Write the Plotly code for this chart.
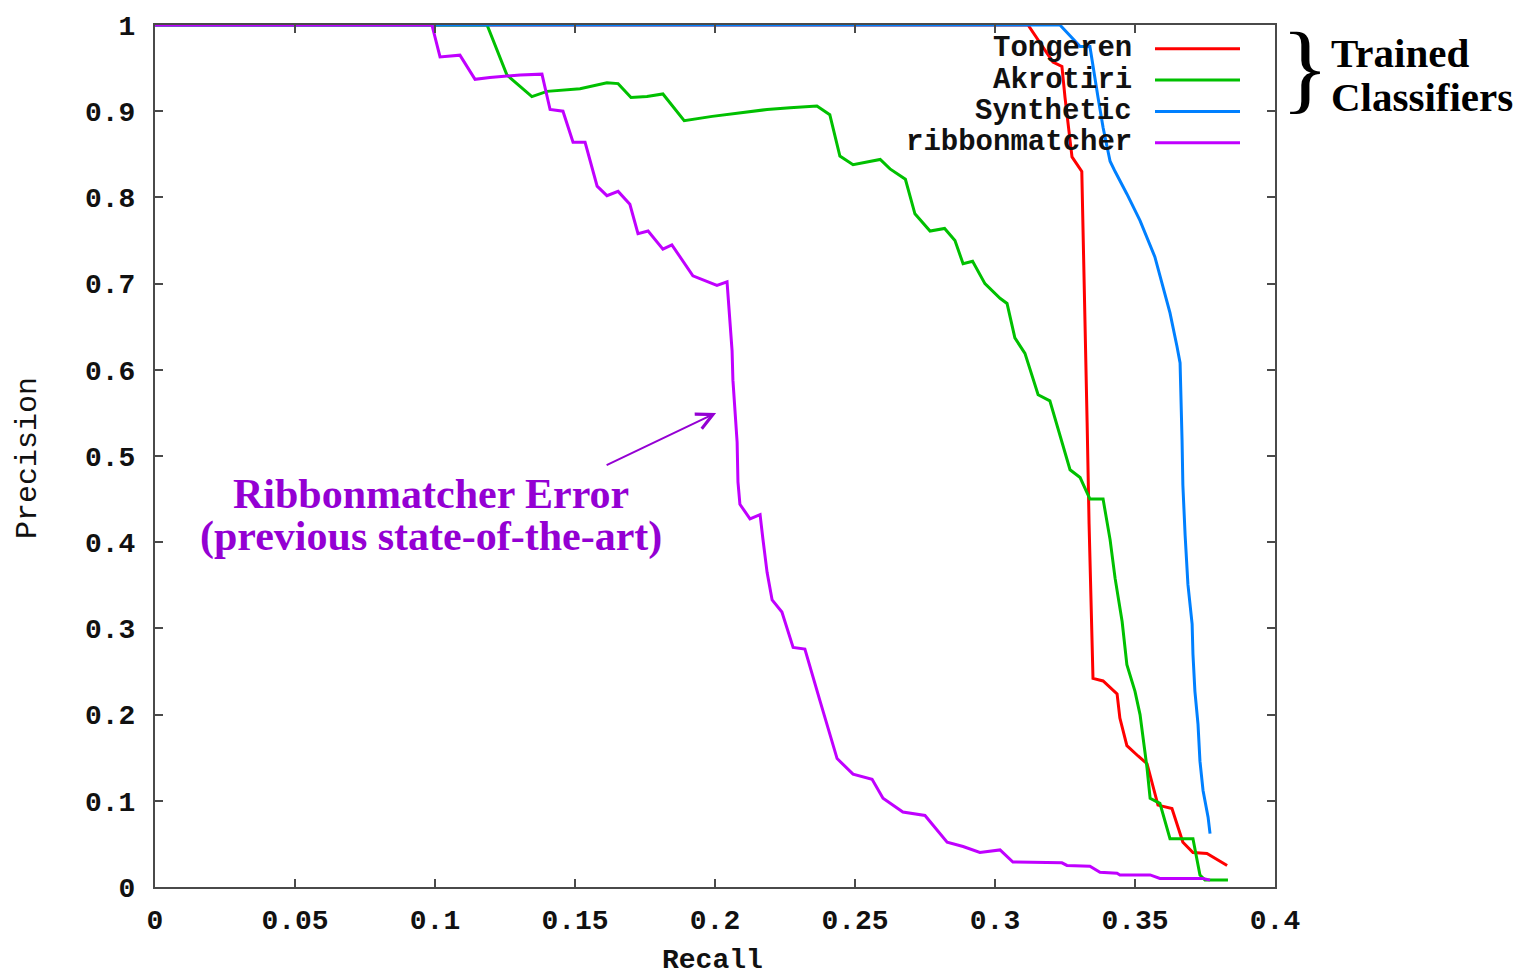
import plotly.graph_objects as go

# Precision / recall curves for the three trained classifiers and ribbonmatcher
tongeren_recall = [0.0, 0.3118, 0.3207, 0.3239, 0.3250, 0.3275, 0.3310, 0.3314, 0.3320,
                   0.3329, 0.3336, 0.3346, 0.3350, 0.3386, 0.3436, 0.3446, 0.3471, 0.3511,
                   0.3543, 0.3582, 0.3632, 0.3671, 0.3707, 0.3757, 0.3829]
tongeren_precision = [1.0, 1.0, 0.957, 0.952, 0.916, 0.847, 0.830, 0.773, 0.654,
                      0.539, 0.421, 0.302, 0.242, 0.239, 0.224, 0.196, 0.164, 0.152,
                      0.143, 0.095, 0.091, 0.052, 0.040, 0.039, 0.025]

akrotiri_recall = [0.0, 0.1186, 0.1257, 0.1346, 0.1400, 0.1518, 0.1614, 0.1654, 0.1700,
                   0.1757, 0.1814, 0.1890, 0.1990, 0.2060, 0.2186, 0.2268, 0.2364, 0.2410,
                   0.2446, 0.2493, 0.2590, 0.2625, 0.2680, 0.2714, 0.2768, 0.2820, 0.2857,
                   0.2886, 0.2920, 0.2964, 0.3018, 0.3043, 0.3071, 0.3107, 0.3154, 0.3196,
                   0.3268, 0.3304, 0.3339, 0.3386, 0.3411, 0.3429, 0.3454, 0.3471, 0.3500,
                   0.3518, 0.3543, 0.3554, 0.3589, 0.3625, 0.3707, 0.3732, 0.3750, 0.3832]
akrotiri_precision = [1.0, 1.0, 0.942, 0.917, 0.923, 0.926, 0.933, 0.932, 0.916,
                      0.917, 0.920, 0.889, 0.894, 0.897, 0.902, 0.904, 0.906, 0.896,
                      0.848, 0.838, 0.844, 0.833, 0.821, 0.781, 0.761, 0.764, 0.750,
                      0.723, 0.726, 0.700, 0.683, 0.677, 0.637, 0.619, 0.571, 0.564,
                      0.484, 0.475, 0.450, 0.450, 0.403, 0.358, 0.308, 0.258, 0.227,
                      0.200, 0.138, 0.103, 0.097, 0.056, 0.056, 0.014, 0.008, 0.008]

synthetic_recall = [0.0, 0.3232, 0.3304, 0.3339, 0.3368, 0.3386, 0.3411, 0.3429, 0.3471,
                    0.3518, 0.3571, 0.3600, 0.3625, 0.3650, 0.3661, 0.3668, 0.3671, 0.3679,
                    0.3689, 0.3704, 0.3707, 0.3714, 0.3725, 0.3732, 0.3743, 0.3761, 0.3768]
synthetic_precision = [1.0, 1.0, 0.975, 0.975, 0.916, 0.881, 0.842, 0.830, 0.804,
                       0.773, 0.731, 0.697, 0.666, 0.627, 0.608, 0.519, 0.466, 0.408,
                       0.351, 0.305, 0.270, 0.227, 0.189, 0.146, 0.112, 0.081, 0.062]

ribbon_recall = [0.0, 0.0989, 0.1018, 0.1089, 0.1143, 0.1196, 0.1304, 0.1382, 0.1411,
                 0.1457, 0.1493, 0.1536, 0.1579, 0.1614, 0.1654, 0.1696, 0.1725, 0.1761,
                 0.1814, 0.1846, 0.1921, 0.2007, 0.2043, 0.2046, 0.2054, 0.2061, 0.2064,
                 0.2071, 0.2079, 0.2082, 0.2089, 0.2125, 0.2161, 0.2171, 0.2186, 0.2204,
                 0.2239, 0.2279, 0.2321, 0.2375, 0.2436, 0.2493, 0.2561, 0.2600, 0.2671,
                 0.2750, 0.2829, 0.2886, 0.2946, 0.3018, 0.3064, 0.3239, 0.3257, 0.3339,
                 0.3375, 0.3436, 0.3446, 0.3554, 0.3589, 0.3743, 0.3768]
ribbon_precision = [1.0, 1.0, 0.963, 0.965, 0.937, 0.939, 0.942, 0.943, 0.902,
                    0.900, 0.864, 0.864, 0.813, 0.802, 0.807, 0.792, 0.758, 0.761,
                    0.740, 0.745, 0.709, 0.698, 0.702, 0.690, 0.656, 0.622, 0.588,
                    0.554, 0.516, 0.470, 0.444, 0.427, 0.432, 0.404, 0.365, 0.333,
                    0.319, 0.278, 0.276, 0.216, 0.149, 0.131, 0.125, 0.103, 0.087,
                    0.083, 0.052, 0.047, 0.040, 0.043, 0.029, 0.028, 0.025, 0.024,
                    0.017, 0.016, 0.014, 0.014, 0.010, 0.010, 0.008]

series_names = ["Tongeren", "Akrotiri", "Synthetic", "ribbonmatcher"]
series_colors = ["#ff0000", "#00c000", "#0080ff", "#c000ff"]
series_x = [tongeren_recall, akrotiri_recall, synthetic_recall, ribbon_recall]
series_y = [tongeren_precision, akrotiri_precision, synthetic_precision, ribbon_precision]

x_ticks = [0, 0.05, 0.1, 0.15, 0.2, 0.25, 0.3, 0.35, 0.4]
y_ticks = [0, 0.1, 0.2, 0.3, 0.4, 0.5, 0.6, 0.7, 0.8, 0.9, 1]

MONO = "Liberation Mono"
SERIF = "Liberation Serif"
AXIS_GREY = "#4a4a4a"
TEXT = "#111111"

fig = go.Figure()
for name, color, xs, ys in zip(series_names, series_colors, series_x, series_y):
    fig.add_trace(go.Scatter(x=xs, y=ys, mode="lines", name=name,
                             line=dict(color=color, width=3), showlegend=False))

W, H = 1522, 980
ML, MR, MT, MB = 155, 247, 19, 93
PW, PH = W - ML - MR, H - MT - MB


def px_to_paper(px, py):
    return (px - ML) / PW, (H - MB - py) / PH


# key drawn in the top-right corner: names right-aligned, sample lines to their right
shapes = []
annotations = []
key_rows = [43, 74.5, 106, 137.5]
for name, color, row in zip(series_names, series_colors, key_rows):
    tx, ty = px_to_paper(1134, row)
    annotations.append(dict(x=tx, y=ty, xref="paper", yref="paper", text="<b>%s</b>" % name,
                            showarrow=False, xanchor="right", yanchor="middle",
                            font=dict(family=MONO, size=29, color=TEXT)))
    x0, y0 = px_to_paper(1155, row)
    x1, _ = px_to_paper(1240, row)
    shapes.append(dict(type="line", xref="paper", yref="paper", x0=x0, x1=x1,
                       y0=y0, y1=y0, line=dict(color=color, width=3)))

# callout for the ribbonmatcher curve
ann_color = "#9400d3"
annotations.append(dict(x=0.2004, y=0.550, xref="x", yref="y", text="",
                        showarrow=True, arrowhead=5, arrowsize=1.6, arrowwidth=2,
                        arrowcolor=ann_color, ax=-111, ay=53, axref="pixel", ayref="pixel"))
for line, py in [("Ribbonmatcher Error", 491), ("(previous state-of-the-art)", 534)]:
    tx, ty = px_to_paper(431, py)
    annotations.append(dict(x=tx, y=ty, xref="paper", yref="paper", text="<b>%s</b>" % line,
                            showarrow=False, xanchor="center", yanchor="middle",
                            font=dict(family=SERIF, size=42, color=ann_color)))

# brace and label grouping the trained classifiers
bx, by = px_to_paper(1305, 62)
annotations.append(dict(x=bx, y=by, xref="paper", yref="paper", text="}",
                        showarrow=False, xanchor="center", yanchor="middle",
                        font=dict(family=SERIF, size=100, color="#000000")))
for line, py in [("Trained", 47), ("Classifiers", 91)]:
    tx, ty = px_to_paper(1329, py)
    annotations.append(dict(x=tx, y=ty, xref="paper", yref="paper", text="<b>%s</b>" % line,
                            showarrow=False, xanchor="left", yanchor="middle",
                            font=dict(family=SERIF, size=41, color="#000000")))

# axis titles
tx, ty = px_to_paper(712, 961)
annotations.append(dict(x=tx, y=ty, xref="paper", yref="paper", text="<b>Recall</b>",
                        showarrow=False, xanchor="center", yanchor="middle",
                        font=dict(family=MONO, size=28, color=TEXT)))
tx, ty = px_to_paper(28, 455)
annotations.append(dict(x=tx, y=ty, xref="paper", yref="paper", text="Precision",
                        showarrow=False, xanchor="center", yanchor="middle", textangle=-90,
                        font=dict(family=MONO, size=30, color=TEXT)))

axis_common = dict(showgrid=False, zeroline=False, showline=True, linecolor=AXIS_GREY,
                   linewidth=2, mirror="ticks", ticks="inside", ticklen=8, tickwidth=2,
                   tickcolor=AXIS_GREY,
                   tickfont=dict(family=MONO, size=28, color=TEXT, weight="bold"))

fig.update_layout(
    width=W, height=H,
    margin=dict(l=ML, r=MR, t=MT, b=MB),
    paper_bgcolor="white", plot_bgcolor="white",
    xaxis=dict(range=[0, 0.4], tickvals=x_ticks, ticktext=[str(v) for v in x_ticks],
               ticklabelstandoff=6, **axis_common),
    yaxis=dict(range=[0, 1], tickvals=y_ticks, ticktext=[str(v) for v in y_ticks],
               ticklabelstandoff=12, **axis_common),
    shapes=shapes,
    annotations=annotations,
)

fig.write_html("out.html")
